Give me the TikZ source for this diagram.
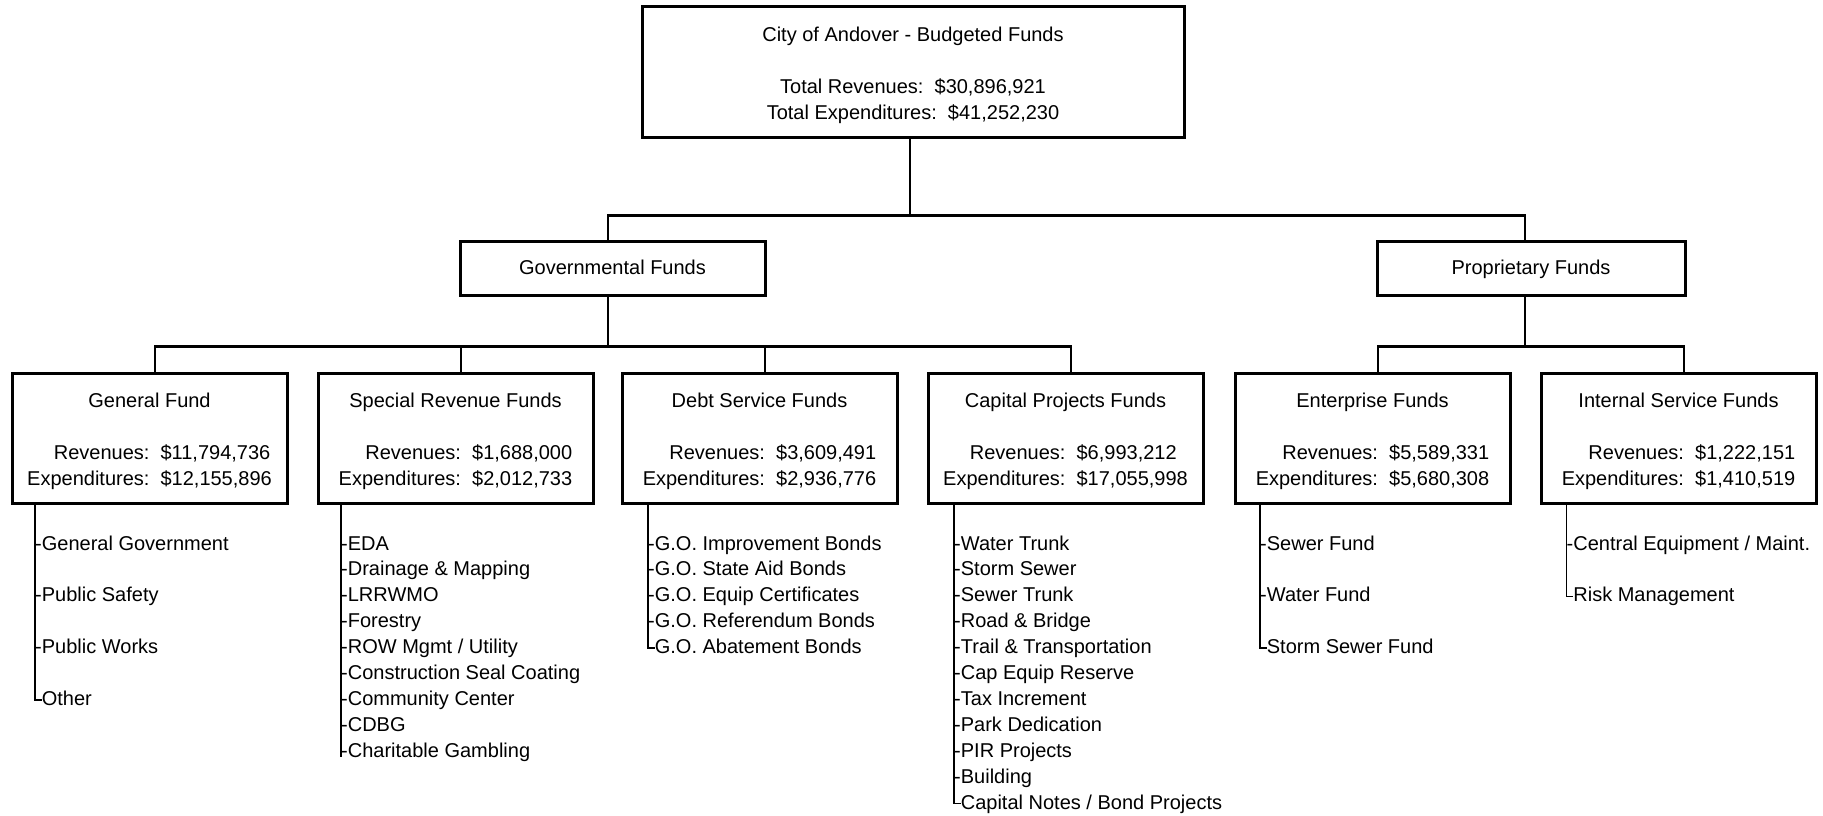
\documentclass[tikz,border=0pt]{standalone}
\usepackage{fontspec}
\setmainfont{Liberation Sans}
\newcommand{\revexp}[2]{\begin{tabular}[t]{@{}r@{\hspace{11.12pt}}l@{}}Revenues:&\$#1\\Expenditures:&\$#2\end{tabular}}
\begin{document}
\begin{tikzpicture}[x=1pt,y=-1pt,
  box/.style={draw, line width=3pt, rectangle, inner sep=0pt},
  kid/.style={box, minimum width=275pt, minimum height=130pt},
  conn/.style={line width=2.6pt},
  tree/.style={line width=1.3pt},
  txt/.style={inner sep=0pt, anchor=base, font=\fontsize{20}{26}\selectfont},
  item/.style={inner sep=0pt, anchor=base west, font=\fontsize{20}{26}\selectfont},
]
\useasboundingbox (0,0) rectangle (1823,815);

% top
\node[box, minimum width=542pt, minimum height=131pt] (top) at (913,71.5) {};
\node[txt] (topT) at (913,41) {City of Andover - Budgeted Funds};
\node[txt] (topR) at (913,93) {Total Revenues:\ \ \$30,896,921};
\node[txt] (topE) at (913,119) {Total Expenditures:\ \ \$41,252,230};

% second level
\node[box, minimum width=305pt, minimum height=54pt] (gov) at (612.5,268) {};
\node[txt] (govT) at (612.5,274) {Governmental Funds};
\node[box, minimum width=308pt, minimum height=54pt] (prop) at (1531,268) {};
\node[txt] (propT) at (1531,274) {Proprietary Funds};

% third level
\node[kid] (gf) at (149.5,438) {};
\node[txt] (gfT) at (149.5,407) {General Fund};
\node[txt] (gfV) at (149.5,459) {\revexp{11,794,736}{12,155,896}};

\node[kid] (sr) at (455.5,438) {};
\node[txt] (srT) at (455.5,407) {Special Revenue Funds};
\node[txt] (srV) at (455.5,459) {\revexp{1,688,000}{2,012,733}};

\node[kid] (ds) at (759.5,438) {};
\node[txt] (dsT) at (759.5,407) {Debt Service Funds};
\node[txt] (dsV) at (759.5,459) {\revexp{3,609,491}{2,936,776}};

\node[kid] (cp) at (1065.5,438) {};
\node[txt] (cpT) at (1065.5,407) {Capital Projects Funds};
\node[txt] (cpV) at (1065.5,459) {\revexp{6,993,212}{17,055,998}};

\node[kid] (ef) at (1372.5,438) {};
\node[txt] (efT) at (1372.5,407) {Enterprise Funds};
\node[txt] (efV) at (1372.5,459) {\revexp{5,589,331}{5,680,308}};

\node[kid] (is) at (1678.5,438) {};
\node[txt] (isT) at (1678.5,407) {Internal Service Funds};
\node[txt] (isV) at (1678.5,459) {\revexp{1,222,151}{1,410,519}};

% connectors
\draw[conn] ([xshift=-3pt]top.south) -- ++(0,77) -| ([xshift=-4.5pt]gov.north);
\draw[conn] ([xshift=-3pt]top.south) ++(0,77) -| ([xshift=-6pt]prop.north);
\draw[conn] ([xshift=-4.5pt]gov.south) -- ++(0,50) coordinate (gj);
\foreach \n in {gf,sr,ds,cp} \draw[conn] (gj) -| ([xshift=5.5pt]\n.north);
\draw[conn] ([xshift=-6pt]prop.south) -- ++(0,50) coordinate (pj);
\foreach \n in {ef,is} \draw[conn] (pj) -| ([xshift=5.5pt]\n.north);

% item lists
% General Fund
\node[item] (gf1) at (35,550) {-General Government};
\node[item] (gf2) at (35,601.8) {-Public Safety};
\node[item] (gf3) at (35,653.6) {-Public Works};
\node[item] (gf4) at (41.66,705.4) {Other};
\draw[tree] ([xshift=-114.5pt]gf.south) |- ([yshift=5.5pt]gf4.base west);

% Special Revenue
\foreach \t [count=\i from 0] in {-EDA,-Drainage \& Mapping,-LRRWMO,-Forestry,-ROW Mgmt / Utility,-Construction Seal Coating,-Community Center,-CDBG,-Charitable Gambling}
  \node[item] (sr\i) at ({341},{550+25.9*\i}) {\t};
\draw[tree] ([xshift=-114.5pt]sr.south) |- (sr8.base west);

% Debt Service
\foreach \t [count=\i from 0] in {-G.O. Improvement Bonds,-G.O. State Aid Bonds,-G.O. Equip Certificates,-G.O. Referendum Bonds}
  \node[item] (ds\i) at ({648},{550+25.9*\i}) {\t};
\node[item] (ds4) at ({654.66},{550+25.9*4}) {G.O. Abatement Bonds};
\draw[tree] ([xshift=-111.5pt]ds.south) |- ([yshift=5.5pt]ds4.base west);

% Capital Projects
\foreach \t [count=\i from 0] in {-Water Trunk,-Storm Sewer,-Sewer Trunk,-Road \& Bridge,-Trail \& Transportation,-Cap Equip Reserve,-Tax Increment,-Park Dedication,-PIR Projects,-Building}
  \node[item] (cp\i) at ({954},{550+25.9*\i}) {\t};
\node[item] (cp10) at ({960.66},{550+25.9*10}) {Capital Notes / Bond Projects};
\draw[tree] ([xshift=-111.5pt]cp.south) |- ([yshift=5.5pt]cp10.base west);

% Enterprise
\node[item] (ef1) at (1260,550) {-Sewer Fund};
\node[item] (ef2) at (1260,601.8) {-Water Fund};
\node[item] (ef3) at (1266.66,653.6) {Storm Sewer Fund};
\draw[tree] ([xshift=-112.5pt]ef.south) |- ([yshift=5.5pt]ef3.base west);

% Internal Service
\node[item] (is1) at (1566.5,550) {-Central Equipment / Maint.};
\node[item] (is2) at (1573.16,601.8) {Risk Management};
\draw[tree] ([xshift=-112pt]is.south) |- ([yshift=5.5pt]is2.base west);
\end{tikzpicture}
\end{document}
